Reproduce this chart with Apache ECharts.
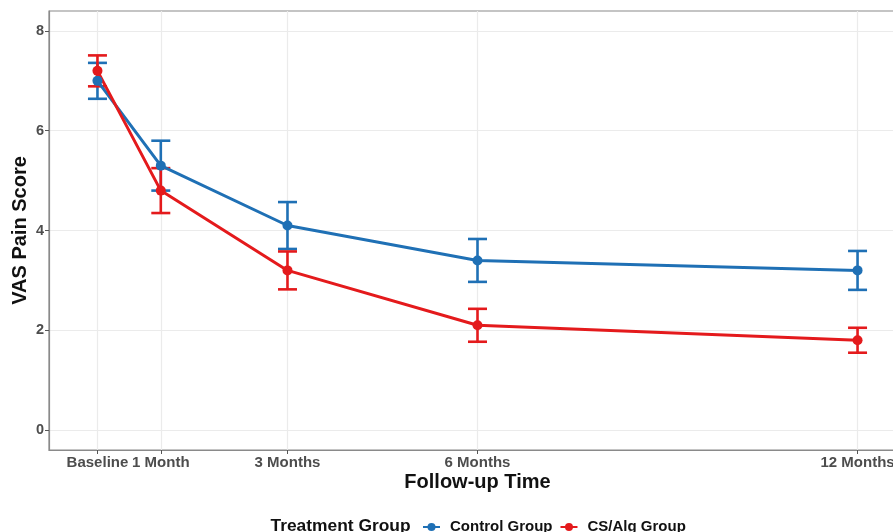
<!DOCTYPE html>
<html>
<head>
<meta charset="utf-8">
<script src="https://cdn.jsdelivr.net/npm/echarts@6/dist/echarts.min.js"></script>
<style>html,body{margin:0;padding:0;background:#fff}#c{width:893px;height:532px}</style>
</head>
<body>
<div id="c"></div>
<script>
const months = [0, 1, 3, 6, 12];
const tickLabels = ['Baseline', '1 Month', '3 Months', '6 Months', '12 Months'];
const seriesNames = ['Control Group', 'CS/Alg Group'];
const controlMean = [7.0, 5.3, 4.1, 3.4, 3.2];
const controlErr = [0.36, 0.5, 0.47, 0.43, 0.39];
const csalgMean = [7.2, 4.8, 3.2, 2.1, 1.8];
const csalgErr = [0.31, 0.45, 0.38, 0.33, 0.25];
const yTicks = [0, 2, 4, 6, 8];

const colors = ['#1F70B5', '#E41A1C'];
const font = 'Liberation Sans, Arial, sans-serif';

function lineData(means) { return months.map((m, i) => [m, means[i]]); }
function errData(means, errs) { return months.map((m, i) => [m, means[i] - errs[i], means[i] + errs[i]]); }

function errRender(color) {
  return function (params, api) {
    const x = api.value(0);
    const lo = api.coord([x, api.value(1)]);
    const hi = api.coord([x, api.value(2)]);
    const l = api.coord([x - 0.15, api.value(1)])[0];
    const r = api.coord([x + 0.15, api.value(1)])[0];
    const style = { stroke: color, lineWidth: 2.6, fill: null };
    return {
      type: 'group',
      children: [
        { type: 'line', shape: { x1: lo[0], y1: lo[1], x2: hi[0], y2: hi[1] }, style },
        { type: 'line', shape: { x1: l, y1: lo[1], x2: r, y2: lo[1] }, style },
        { type: 'line', shape: { x1: l, y1: hi[1], x2: r, y2: hi[1] }, style }
      ]
    };
  };
}

const chart = echarts.init(document.getElementById('c'), null, { renderer: 'canvas' });
chart.setOption({
  animation: false,
  backgroundColor: '#fff',
  grid: { left: 49, right: -13, top: 11, bottom: 82, containLabel: false, outerBoundsMode: 'none',
    show: true, borderColor: '#8a8a8a', borderWidth: 1.2, backgroundColor: 'transparent' },
  xAxis: {
    type: 'value', min: -0.765, max: 12.765,
    name: 'Follow-up Time', nameLocation: 'middle', nameGap: 22.5, nameMoveOverlap: false,
    nameTextStyle: { fontFamily: font, fontWeight: 'bold', fontSize: 20, color: '#111' },
    axisLine: { show: true, onZero: false, lineStyle: { color: '#8a8a8a', width: 1.2 } },
    axisTick: { show: true, length: 4, lineStyle: { color: '#555' }, customValues: months },
    axisLabel: { customValues: months, margin: 5, fontFamily: font, fontWeight: 'bold', fontSize: 15, color: '#4d4d4d',
      formatter: v => tickLabels[months.indexOf(v)] },
    splitLine: { show: true, lineStyle: { color: '#ebebeb', width: 1.2 } }
  },
  yAxis: {
    type: 'value', min: -0.4, max: 8.4,
    name: 'VAS Pain Score', nameLocation: 'middle', nameGap: 19, nameMoveOverlap: false,
    nameTextStyle: { fontFamily: font, fontWeight: 'bold', fontSize: 20, color: '#111' },
    axisLine: { show: true, onZero: false, lineStyle: { color: '#8a8a8a', width: 1.2 } },
    axisTick: { show: true, length: 4, lineStyle: { color: '#555' }, customValues: yTicks },
    axisLabel: { customValues: yTicks, margin: 5, fontFamily: font, fontWeight: 'bold', fontSize: 14.5, color: '#4d4d4d' },
    splitLine: { show: true, lineStyle: { color: '#ebebeb', width: 1.2 } }
  },
  legend: {
    data: seriesNames, left: 417, top: 514.5, itemWidth: 17, itemHeight: 10, itemGap: 7,
    textStyle: { fontFamily: font, fontWeight: 'bold', fontSize: 15, color: '#111', padding: [0, 0, 0, 5] }
  },
  graphic: [{ type: 'text', x: 270.5, y: 526, style: { text: 'Treatment Group', font: 'bold 17.4px ' + font, fill: '#111', verticalAlign: 'middle' } }],
  series: [
    { name: seriesNames[0], type: 'line', data: lineData(controlMean), color: colors[0], symbol: 'circle', symbolSize: 10,
      lineStyle: { width: 3 }, z: 3 },
    { name: seriesNames[1], type: 'line', data: lineData(csalgMean), color: colors[1], symbol: 'circle', symbolSize: 10,
      lineStyle: { width: 3 }, z: 3 },
    { name: seriesNames[0], type: 'custom', data: errData(controlMean, controlErr), renderItem: errRender(colors[0]), z: 2 },
    { name: seriesNames[1], type: 'custom', data: errData(csalgMean, csalgErr), renderItem: errRender(colors[1]), z: 2 }
  ]
});
</script>
</body>
</html>
